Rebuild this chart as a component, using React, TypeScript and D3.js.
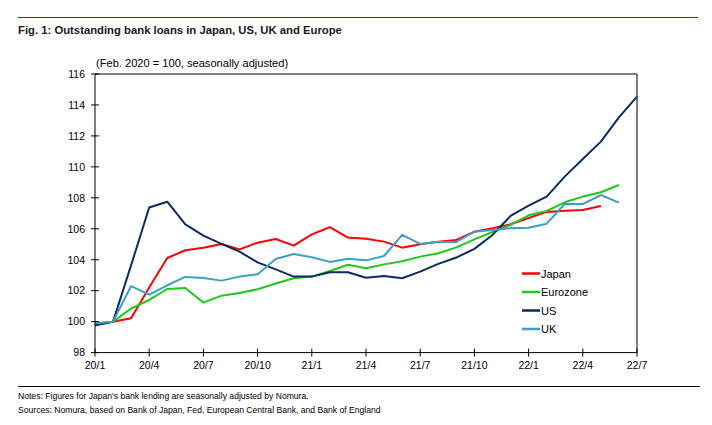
import React from "react";
import * as d3 from "d3";

const monthLabels = ["20/1", "20/4", "20/7", "20/10", "21/1", "21/4", "21/7", "21/10", "22/1", "22/4", "22/7"];
const yTicks = [98, 100, 102, 104, 106, 108, 110, 112, 114, 116];

// monthly values starting 2020/1 (index 0)
const japan = [99.85, 100.0, 100.22, 102.2, 104.11, 104.61, 104.78, 105.02, 104.67, 105.1, 105.34, 104.91, 105.64, 106.1, 105.43, 105.36, 105.17, 104.78, 105.0, 105.17, 105.28, 105.81, 106.03, 106.29, 106.7, 107.09, 107.17, 107.21, 107.47];
const eurozone = [99.8, 100.0, 100.85, 101.4, 102.11, 102.18, 101.23, 101.68, 101.85, 102.09, 102.46, 102.8, 102.91, 103.27, 103.68, 103.45, 103.7, 103.9, 104.2, 104.42, 104.8, 105.32, 105.79, 106.25, 106.87, 107.15, 107.71, 108.08, 108.36, 108.83];
const us = [99.75, 100.0, 103.65, 107.37, 107.75, 106.29, 105.56, 105.02, 104.52, 103.83, 103.38, 102.91, 102.91, 103.19, 103.19, 102.84, 102.95, 102.8, 103.23, 103.73, 104.14, 104.7, 105.6, 106.83, 107.5, 108.08, 109.37, 110.51, 111.63, 113.2, 114.54];
const uk = [99.9, 100.0, 102.3, 101.74, 102.35, 102.89, 102.82, 102.65, 102.91, 103.06, 104.05, 104.37, 104.16, 103.86, 104.07, 103.96, 104.24, 105.6, 105.02, 105.15, 105.15, 105.81, 105.92, 106.03, 106.07, 106.33, 107.6, 107.6, 108.18, 107.69];

const seriesNames = ["Japan", "Eurozone", "US", "UK"];
const seriesColors = ["#ff0000", "#1ec81e", "#0c2a64", "#3aa0c6"];

export default function App() {
  const W = 712, H = 425;
  const left = 95, right = 637, top = 74, bottom = 352.6;
  const x = d3.scaleLinear().domain([0, 30]).range([left, right]);
  const y = d3.scaleLinear().domain([98, 116]).range([bottom, top]);
  const line = d3.line<number>().x((_, i) => x(i)).y((d) => y(d));
  const data = [japan, eurozone, us, uk];
  const font = "Arial, 'Liberation Sans', sans-serif";

  return (
    <svg width={W} height={H} style={{ position: "absolute", left: 0, top: 0, background: "#fff" }} fontFamily={font}>
      <rect width={W} height={H} fill="#fff" />
      <line x1={18} x2={698} y1={17.5} y2={17.5} stroke="#c00000" strokeWidth={1} />
      <text x={18} y={34} fontSize={11.3} fontWeight="bold" fill="#1a1a1a">
        Fig. 1: Outstanding bank loans in Japan, US, UK and Europe
      </text>
      <text x={96} y={66.5} fontSize={11.1} fill="#000">(Feb. 2020 = 100, seasonally adjusted)</text>

      {/* frame */}
      <line x1={left} x2={right} y1={top} y2={top} stroke="#000" strokeWidth={1} />
      <line x1={right} x2={right} y1={top} y2={bottom} stroke="#000" strokeWidth={1} />

      {/* data */}
      {data.map((d, i) => (
        <path key={i} d={line(d) || ""} fill="none" stroke={seriesColors[i]} strokeWidth={2} strokeLinejoin="round" />
      ))}

      {/* axes */}
      <line x1={left} x2={left} y1={top} y2={bottom} stroke="#000" strokeWidth={1} />
      <line x1={left} x2={right} y1={bottom} y2={bottom} stroke="#000" strokeWidth={1} />
      {yTicks.map((t) => (
        <g key={t}>
          <line x1={left - 4} x2={left + 4} y1={y(t)} y2={y(t)} stroke="#000" strokeWidth={1} />
          <text x={85} y={y(t) + 3.8} textAnchor="end" fontSize={10.5} fill="#000">{t}</text>
        </g>
      ))}
      {monthLabels.map((lab, i) => (
        <g key={lab}>
          <line x1={x(i * 3)} x2={x(i * 3)} y1={bottom - 4} y2={bottom + 4} stroke="#000" strokeWidth={1} />
          <text x={x(i * 3)} y={369} textAnchor="middle" fontSize={10.5} fill="#000">{lab}</text>
        </g>
      ))}

      {/* legend */}
      {seriesNames.map((n, i) => (
        <g key={n}>
          <line x1={522} x2={540} y1={273.5 + i * 18.5} y2={273.5 + i * 18.5} stroke={seriesColors[i]} strokeWidth={2.5} />
          <text x={541} y={277.5 + i * 18.5} fontSize={11} fill="#000">{n}</text>
        </g>
      ))}

      <line x1={18} x2={700} y1={386.5} y2={386.5} stroke="#000" strokeWidth={1} />
      <text x={18} y={399} fontSize={8.6} fill="#000">Notes: Figures for Japan's bank lending are seasonally adjusted by Nomura.</text>
      <text x={18} y={412.5} fontSize={8.6} fill="#000">Sources: Nomura, based on Bank of Japan, Fed, European Central Bank, and Bank of England</text>
    </svg>
  );
}
